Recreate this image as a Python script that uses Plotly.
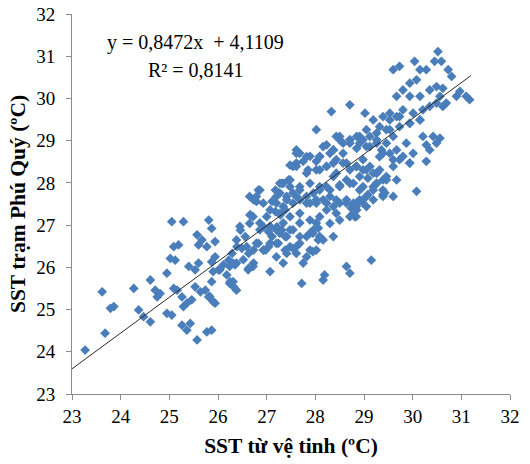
import plotly.graph_objects as go

# Satellite SST (x) vs station SST at Phu Quy (y)
sst_sat = [
    23.27, 23.68, 23.62, 23.79, 23.86, 24.27, 24.37, 24.47, 24.61, 24.61, 24.71, 24.75, 24.81, 24.95, 24.95,
    25.05, 25.09, 25.16, 25.05, 25.29, 25.09, 25.19, 25.02, 25.12, 25.26, 25.36, 25.46, 25.29, 25.26, 25.36,
    25.43, 25.57, 25.77, 25.87, 25.40, 25.53, 25.60, 25.57, 25.67, 25.60, 25.77, 25.81, 25.87, 25.94, 25.94,
    25.87, 25.53, 25.64, 25.74, 25.81, 25.94, 25.87, 26.01, 26.11, 26.18, 26.25, 26.32, 26.22, 26.35, 26.29,
    26.39, 26.49, 26.46, 26.56, 26.63, 26.66, 26.63,
    25.90, 25.83, 26.24, 26.38, 26.31, 25.90, 26.04, 26.24, 26.38, 26.62,
    26.73, 26.83, 26.73, 26.73, 26.66,
    26.83, 26.94, 27.04, 27.07, 26.94, 27.04, 27.11, 27.18, 27.28, 27.38, 27.21, 27.31, 27.38, 27.24, 27.38,
    27.18, 27.31, 27.45, 27.48, 27.11,
    28.71, 28.33, 29.02, 28.02, 28.43, 28.57, 28.71, 28.85, 28.98, 29.12, 29.05, 28.85,
    27.68, 27.61, 27.75, 27.89, 28.02, 28.09, 27.54, 27.85, 28.09, 28.23, 28.37, 28.43, 28.57, 28.71, 28.85,
    28.98, 29.12, 29.26, 28.91, 29.08, 29.26, 29.39, 29.43, 29.19, 28.98, 28.78, 28.64, 28.50,
    27.34, 27.48, 27.27, 27.41, 27.54, 27.68, 27.20, 27.34, 27.54, 27.68, 27.82, 27.96, 28.09, 28.23, 27.89,
    28.02, 28.16, 28.30, 28.23, 28.37, 28.50, 28.64, 28.43, 28.85, 28.78, 28.91, 29.05, 28.81, 29.05,
    26.79, 26.93, 26.72, 26.86, 27.00, 27.07, 27.20, 27.34, 27.41, 27.54, 27.68, 27.48, 27.68, 27.82, 27.96,
    28.02, 28.09, 27.89, 27.61, 27.75, 27.07, 26.93, 27.20, 27.34,
    27.61, 28.23, 28.37,
    27.72, 28.16, 28.19, 28.64, 28.71, 29.15, 27.95, 28.06, 27.89, 27.54, 28.06, 28.84, 28.74, 28.98, 29.08,
    29.39, 30.08,
    29.39, 29.26, 29.46, 29.19, 29.32, 29.60,
    30.52, 30.59, 30.73, 30.80, 30.04, 30.15, 30.08, 29.94, 29.60, 29.73, 29.67, 29.80, 29.94, 30.15, 30.35,
    30.49, 30.56, 30.90, 30.97, 31.10, 31.17, 29.39, 29.53, 29.67, 29.80, 30.01, 30.21, 30.35, 30.49, 30.69,
    29.19, 29.32, 29.53, 29.73, 29.94, 30.15, 30.21, 30.42, 30.28, 30.49, 30.35, 29.26, 29.46, 29.67, 29.87,
    29.80, 29.60, 29.94, 29.39,
    30.45, 30.28, 30.62, 30.62, 30.56, 30.28, 30.01, 29.36, 29.26,
    28.50, 28.71, 28.91, 27.61, 27.82, 28.09, 28.30, 28.43, 28.64, 28.84, 28.98, 27.61, 27.82, 28.02, 28.23,
    28.37, 27.27, 27.48, 27.68, 27.89, 28.09, 28.30, 28.50, 28.71, 28.91, 26.86, 26.65, 26.79, 27.20, 27.41,
    27.61, 27.82, 28.02, 28.23, 28.43, 28.64, 28.84, 28.98, 27.07, 27.27, 27.48, 27.68, 27.89, 28.09, 28.30,
    28.50, 28.71, 26.45, 26.65, 26.86, 27.07, 27.27, 27.48, 27.68, 27.95, 28.16, 28.37, 26.38, 26.59, 26.79,
    26.98, 27.20, 27.41, 27.61, 27.82, 28.02, 26.31, 26.52, 26.72,
    29.53, 29.73, 29.94, 30.15, 29.05, 29.26, 29.46, 29.60, 28.50, 28.71, 28.91, 29.12, 28.16, 28.37, 28.57,
    29.32, 29.53, 29.73, 29.94, 28.84, 29.05, 29.26, 29.46, 29.67, 29.19, 29.39, 29.60, 29.19, 28.84, 28.78,
]
sst_station = [
    24.04, 24.44, 25.42, 25.03, 25.07, 25.50, 24.99, 24.83, 24.71, 25.70, 25.46, 25.30, 25.38, 25.86, 24.91,
    24.87, 25.50, 25.46, 27.08, 27.08, 26.49, 26.53, 26.21, 26.17, 25.30, 25.15, 25.23, 25.07, 24.63, 24.51,
    24.67, 24.28, 24.47, 24.51, 26.02, 25.94, 26.10, 26.77, 26.65, 26.53, 26.49, 27.12, 26.92, 26.61, 26.25,
    26.13, 25.54, 25.42, 25.46, 25.30, 25.15, 25.66, 25.94, 26.06, 25.82, 25.66, 25.54, 26.17, 26.06, 26.33,
    26.49, 26.45, 26.88, 26.73, 26.33, 27.24, 25.98,
    25.19, 25.31, 25.62, 25.46, 25.66, 25.90, 25.94, 26.02, 26.10, 25.94,
    27.60, 27.83, 26.41, 26.10, 27.24,
    26.57, 26.41, 26.49, 25.90, 26.96, 26.84, 26.73, 27.32, 27.24, 27.36, 26.96, 26.88, 26.73, 26.57, 26.41,
    27.83, 27.99, 28.07, 28.42, 27.56,
    29.85, 29.69, 29.65, 29.26, 29.10, 28.94, 29.02, 29.10, 29.02, 29.10, 28.86, 28.82,
    28.70, 28.47, 28.51, 28.63, 28.51, 28.63, 28.39, 28.31, 28.31, 28.39, 28.47, 28.23, 28.47, 28.31, 28.39,
    28.31, 28.39, 28.23, 28.15, 28.11, 27.99, 28.07, 27.76, 27.83, 27.91, 27.99, 28.07, 27.95,
    27.99, 27.91, 27.76, 27.68, 27.76, 27.83, 27.52, 27.44, 27.52, 27.60, 27.68, 27.76, 27.83, 27.91, 27.52,
    27.52, 27.60, 27.68, 27.36, 27.44, 27.52, 27.60, 27.28, 27.36, 27.52, 27.60, 27.68, 27.20, 27.44,
    27.68, 27.52, 27.20, 27.05, 27.20, 26.97, 26.89, 27.05, 26.73, 26.89, 27.05, 26.49, 26.57, 26.73, 26.89,
    27.05, 26.73, 26.41, 26.33, 26.10, 26.57, 26.41, 26.25, 26.10,
    28.78, 28.90, 28.78,
    25.62, 25.70, 25.82, 26.02, 25.86, 26.17, 26.37, 26.65, 26.81, 26.45, 26.93, 27.20, 27.40, 27.52, 27.72,
    27.72, 27.80,
    27.68, 27.99, 28.07, 28.23, 28.31, 28.39,
    31.11, 30.88, 30.68, 30.52, 30.88, 30.68, 30.44, 30.36, 30.68, 30.76, 30.05, 30.20, 30.05, 30.05, 30.20,
    30.28, 30.05, 30.05, 30.17, 30.05, 29.97, 29.57, 29.65, 29.57, 29.73, 29.65, 29.73, 29.81, 29.89, 29.89,
    29.49, 29.33, 29.26, 29.33, 29.41, 29.49, 29.10, 29.10, 28.90, 28.94, 28.78, 29.02, 28.94, 28.78, 28.94,
    28.63, 28.55, 28.47, 28.70,
    30.88, 30.68, 30.24, 29.81, 29.06, 28.51, 28.70, 28.78, 28.94,
    29.02, 28.94, 29.10, 28.70, 28.62, 28.62, 28.70, 28.55, 28.47, 28.39, 28.55, 28.39, 28.23, 28.31, 28.39,
    28.15, 27.99, 28.07, 27.91, 27.99, 27.91, 27.83, 27.91, 27.99, 27.83, 27.83, 27.68, 27.56, 27.68, 27.60,
    27.68, 27.52, 27.60, 27.52, 27.60, 27.52, 27.44, 27.60, 27.36, 27.28, 27.20, 27.28, 27.12, 27.20, 27.04,
    27.12, 27.20, 26.97, 27.04, 26.89, 26.97, 26.81, 26.89, 26.73, 26.81, 26.65, 26.73, 26.65, 26.49, 26.57,
    26.41, 26.57, 26.33, 26.49, 26.25, 26.41, 26.10, 26.18, 26.02,
    29.49, 29.57, 29.41, 29.49, 29.26, 29.18, 29.26, 29.10, 29.10, 29.02, 28.94, 28.86, 28.86, 28.78, 28.70,
    28.62, 28.70, 28.55, 28.47, 28.39, 28.31, 28.23, 28.15, 28.07, 27.91, 27.83, 27.68, 27.60, 27.52, 27.28,
]

# Linear trend shown on the chart
slope = 0.8472
intercept = 4.1109
trend_x = [23.0, 31.2]
trend_y = [slope * v + intercept for v in trend_x]

x_ticks = list(range(23, 33))
y_ticks = list(range(23, 33))

serif = "Liberation Serif, Times New Roman, serif"

fig = go.Figure()
fig.add_trace(go.Scatter(
    x=sst_sat, y=sst_station, mode="markers",
    marker=dict(symbol="diamond", size=7.5, color="#4A7EBB", line=dict(width=0)),
    showlegend=False, hoverinfo="skip",
))
fig.add_trace(go.Scatter(
    x=trend_x, y=trend_y, mode="lines",
    line=dict(color="#2b2b2b", width=1),
    showlegend=False, hoverinfo="skip",
))

fig.add_annotation(
    xref="paper", yref="paper", x=0.283, y=0.924, xanchor="center", yanchor="middle",
    text="y = 0,8472x  + 4,1109", showarrow=False,
    font=dict(family=serif, size=20, color="#000000"),
)
fig.add_annotation(
    xref="paper", yref="paper", x=0.283, y=0.853, xanchor="center", yanchor="middle",
    text="R² = 0,8141", showarrow=False,
    font=dict(family=serif, size=20, color="#000000"),
)

axis_common = dict(
    showgrid=False, zeroline=False, showline=True, linecolor="#8c8c8c", linewidth=1,
    ticks="outside", ticklen=5, tickcolor="#8c8c8c", automargin=False,
    ticklabeloverflow="allow",
    tickfont=dict(family=serif, size=19, color="#000000"),
)
fig.update_xaxes(
    range=[23, 32], tickvals=x_ticks, ticktext=[str(t) for t in x_ticks],
    title=dict(text="<b>SST từ vệ tinh (ºC)</b>", font=dict(family=serif, size=21.5, color="#000000"), standoff=12),
    **axis_common,
)
fig.update_yaxes(
    range=[23, 32], tickvals=y_ticks, ticktext=[str(t) for t in y_ticks],
    ticklabelstandoff=7,
    title=dict(text="<b>SST trạm Phú Quý (ºC)</b>", font=dict(family=serif, size=21.5, color="#000000"), standoff=4),
    **axis_common,
)
fig.update_layout(
    width=530, height=464,
    margin=dict(l=72, r=20, t=14, b=70),
    paper_bgcolor="white", plot_bgcolor="white",
)
fig.write_html("out.html", config={"displayModeBar": False},
               post_script="document.body.style.margin='0px';")
